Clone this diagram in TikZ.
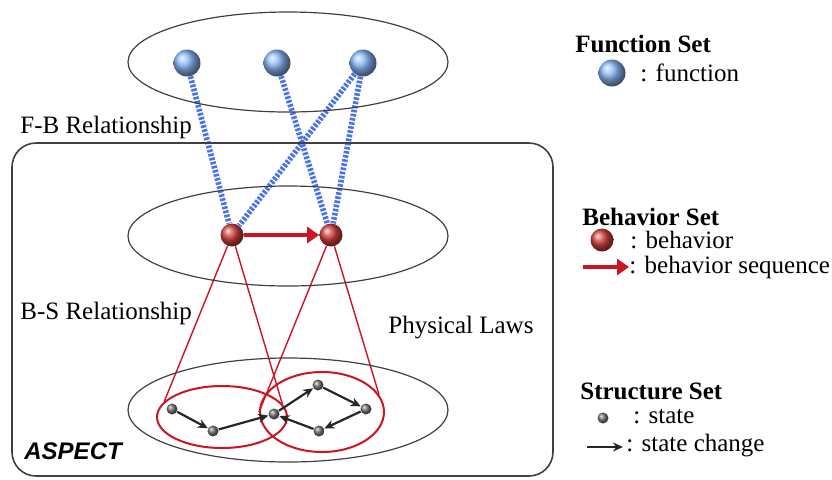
\documentclass[tikz,border=0pt]{standalone}
\usepackage{fontspec}
\setmainfont{Liberation Serif}
\setsansfont{Liberation Sans}
\usetikzlibrary{shapes.geometric,arrows.meta,backgrounds}
\definecolor{fblue}{RGB}{140,185,250}
\definecolor{lineblue}{RGB}{75,115,230}
\definecolor{bred}{RGB}{210,65,60}
\definecolor{lawred}{RGB}{205,20,35}
\tikzset{
  setell/.style={draw=black!75, line width=0.6pt, ellipse, minimum width=160pt, minimum height=50pt, inner sep=0pt},
  fball/.style={circle, shading=ball, ball color=fblue, minimum size=13.5pt, inner sep=0pt},
  bball/.style={circle, shading=ball, ball color=bred, minimum size=11.5pt, inner sep=0pt},
  sball/.style={circle, shading=ball, ball color=black!55, minimum size=5.5pt, inner sep=0pt},
  fbline/.style={draw=lineblue, line width=2.8pt, dash pattern=on 1.3pt off 0.8pt},
  bsline/.style={draw=lawred, line width=0.7pt},
  redell/.style={draw=lawred, line width=1pt, ellipse, inner sep=0pt},
  bseq/.style={draw=lawred, line width=2pt, -{Triangle[length=6pt,width=8pt]}},
  schange/.style={draw=black!85, line width=1.1pt, -{Stealth[length=5pt,width=4.5pt]}},
  lbl/.style={anchor=west, inner sep=0pt, font=\rmfamily\fontsize{12.5}{14}\selectfont},
  ttl/.style={lbl, font=\rmfamily\fontsize{12.5}{14}\selectfont\bfseries}
}
\begin{document}
\begin{tikzpicture}[x=0.5pt,y=-0.5pt]
\useasboundingbox (0,0) rectangle (832,479);
% aspect box and the three sets
\draw[black!75, line width=0.8pt, rounded corners=12pt] (12,143) rectangle (553,476);
\node[setell] (fset) at (288,62) {};
\node[setell] (bset) at (288,236) {};
\node[setell, minimum height=52pt] (sset) at (288,410) {};
\node[redell, minimum width=65pt, minimum height=31pt] (lred) at (222,417) {};
\node[redell, minimum width=62pt, minimum height=40pt] (rred) at (322,412) {};
% functions and behaviors
\node[fball] (f1) at (187,63) {};
\node[fball] (f2) at (277,63) {};
\node[fball] (f3) at (363,63) {};
\node[bball] (b1) at (232,235) {};
\node[bball] (b2) at (331,235) {};
% states
\node[sball] (s1) at (172,409) {};
\node[sball] (s2) at (213,431) {};
\node[sball] (s3) at (274,414) {};
\node[sball] (s4) at (318,385) {};
\node[sball] (s5) at (366,409) {};
\node[sball] (s6) at (319,431) {};
\begin{scope}[on background layer]
\draw[fbline] (f1) -- (b1);
\draw[fbline] (f2) -- (b2);
\draw[fbline] (f3) -- (b1);
\draw[fbline] (f3) -- (b2);
\draw[bsline] (b1) -- (lred.165);
\draw[bsline] (b1) -- (lred.12);
\draw[bsline] (b2) -- (rred.180);
\draw[bsline] (b2) -- (rred.17);
\end{scope}
\draw[bseq] (b1) -- (b2);
\draw[schange] (s1) -- (s2);
\draw[schange] (s2) -- (s3);
\draw[schange] (s3) -- (s4);
\draw[schange] (s4) -- (s5);
\draw[schange] (s5) -- (s6);
\draw[schange] (s6) -- (s3);
% labels
\node[lbl] (fblbl) at (20,127) {F-B Relationship};
\node[lbl] (bslbl) at (20,313) {B-S Relationship};
\node[lbl] (laws) at (388,328) {Physical Laws};
\node[lbl, font=\sffamily\fontsize{12}{14}\selectfont\bfseries\itshape] (aspect) at (24,451) {ASPECT};
% legend
\node[ttl] (ftitle) at (575,44) {Function Set};
\node[fball] (fkey) at (612,73) {};
\node[lbl] (fkeytxt) at (640,73) {: function};
\node[ttl] (btitle) at (582,217) {Behavior Set};
\node[bball] (bkey) at (602,240) {};
\node[lbl] (bkeytxt) at (630,240) {: behavior};
\coordinate (bseqa) at (583,267);
\coordinate (bseqb) at (629,267);
\draw[bseq] (bseqa) -- (bseqb);
\node[lbl] (bseqtxt) at (629,267) {: behavior sequence};
\node[ttl] (stitle) at (580,391) {Structure Set};
\node[sball] (skey) at (603,418) {};
\node[lbl] (skeytxt) at (633,417) {: state};
\coordinate (schga) at (587,447);
\coordinate (schgb) at (623,447);
\draw[schange] (schga) -- (schgb);
\node[lbl] (schgtxt) at (626,446) {: state change};
\end{tikzpicture}
\end{document}
